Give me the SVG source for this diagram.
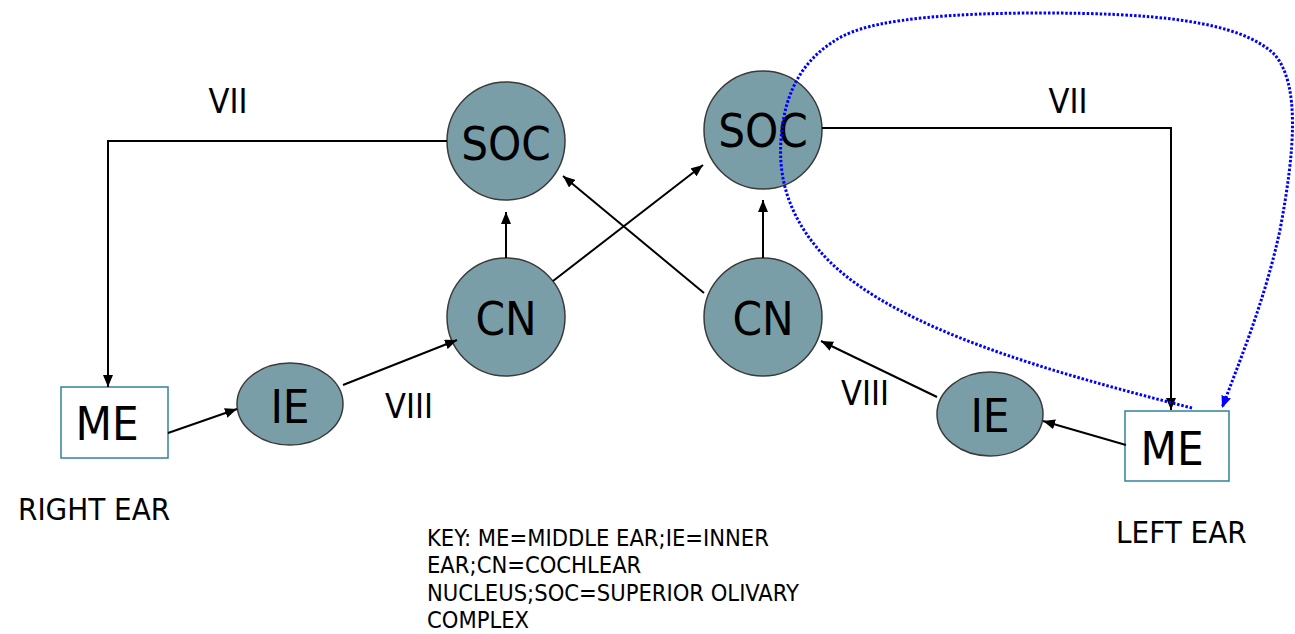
<svg xmlns="http://www.w3.org/2000/svg" width="1295" height="634" viewBox="0 0 1295 634">
<style>
.n{fill:#7a9ea8;stroke:#3a3a3a;stroke-width:1.5}
.me{fill:#fff;stroke:#31849b;stroke-width:1.5}
.t{font-family:"DejaVu Sans Condensed","DejaVu Sans","Liberation Sans",sans-serif;fill:#000;text-anchor:middle}
.big{font-size:47px}
.lab{font-size:34px}
.ear{font-size:31px;text-anchor:start}
.key{font-size:23.5px;text-anchor:start}
.c{fill:none;stroke:#000;stroke-width:2}
.d{fill:none;stroke:#0000ff;stroke-width:3;stroke-dasharray:2.5 1.8}
</style>
<defs>
<marker id="a" viewBox="0 0 12 10" refX="12" refY="5" markerWidth="12" markerHeight="10" markerUnits="userSpaceOnUse" orient="auto"><path d="M0,0 L12,5 L0,10 Z" fill="#000"/></marker>
<marker id="b" viewBox="0 0 12 10" refX="12" refY="5" markerWidth="12" markerHeight="10" markerUnits="userSpaceOnUse" orient="auto"><path d="M0,0 L12,5 L0,10 Z" fill="#0000ff"/></marker>
</defs>
<g id="soc-left"><circle class="n" cx="506" cy="141" r="59"/><text class="t big" x="506" y="160">SOC</text></g>
<g id="soc-right"><circle class="n" cx="763" cy="130" r="59"/><text class="t big" x="763" y="147">SOC</text></g>
<g id="cn-left"><circle class="n" cx="506" cy="317" r="59"/><text class="t big" x="506" y="335">CN</text></g>
<g id="cn-right"><circle class="n" cx="763" cy="317" r="59"/><text class="t big" x="763" y="335">CN</text></g>
<g id="ie-left"><ellipse class="n" cx="290" cy="404" rx="53" ry="41"/><text class="t big" x="290" y="423">IE</text></g>
<g id="ie-right"><ellipse class="n" cx="990" cy="414" rx="53" ry="42"/><text class="t big" x="990" y="432">IE</text></g>
<g id="me-left"><rect class="me" x="61" y="387" width="107" height="71"/><text class="t big" x="107" y="440">ME</text></g>
<g id="me-right"><rect class="me" x="1125" y="411" width="104" height="70"/><text class="t big" x="1172" y="465">ME</text></g>
<g id="connectors">
<polyline class="c" points="447,141 108,141 108,387" marker-end="url(#a)"/>
<line class="c" x1="168" y1="433" x2="237" y2="409" marker-end="url(#a)"/>
<line class="c" x1="343" y1="385" x2="457" y2="340" marker-end="url(#a)"/>
<line class="c" x1="506" y1="258" x2="506" y2="212" marker-end="url(#a)"/>
<line class="c" x1="553" y1="281" x2="703" y2="165" marker-end="url(#a)"/>
<line class="c" x1="704" y1="293" x2="563" y2="176" marker-end="url(#a)"/>
<line class="c" x1="763" y1="258" x2="763" y2="200" marker-end="url(#a)"/>
<polyline class="c" points="822,128 1171,128 1171,410" marker-end="url(#a)"/>
<line class="c" x1="1126" y1="445" x2="1043" y2="421" marker-end="url(#a)"/>
<line class="c" x1="937" y1="397" x2="821" y2="341" marker-end="url(#a)"/>
<path class="d" d="M1192,408 C1050,372 900,330 830,262 C790,222 778,180 781,140 C784,90 805,55 845,35 C880,18 960,13 1040,13 C1150,13 1240,20 1275,55 C1300,85 1295,150 1280,230 C1265,300 1240,360 1222,408" marker-end="url(#b)"/>
</g>
<g id="labels">
<text class="t lab" x="228" y="113">VII</text>
<text class="t lab" x="1068" y="113">VII</text>
<text class="t lab" x="409" y="418">VIII</text>
<text class="t lab" x="865" y="405">VIII</text>
<text class="t ear" x="18" y="520">RIGHT EAR</text>
<text class="t ear" x="1116" y="543">LEFT EAR</text>
<text class="t key" x="427" y="546">KEY: ME=MIDDLE EAR;IE=INNER</text>
<text class="t key" x="427" y="573">EAR;CN=COCHLEAR</text>
<text class="t key" x="427" y="601">NUCLEUS;SOC=SUPERIOR OLIVARY</text>
<text class="t key" x="427" y="628">COMPLEX</text>
</g>
</svg>
